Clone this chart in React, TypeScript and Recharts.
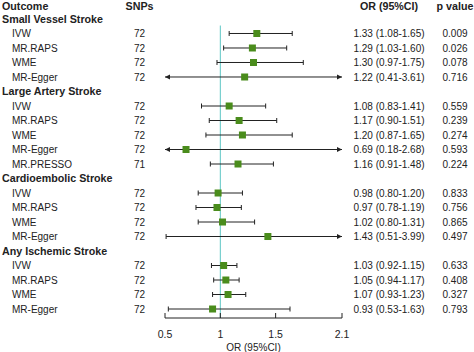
import React from 'react';
import { ScatterChart, Scatter, XAxis, YAxis, ReferenceLine } from 'recharts';

const groupNames = ['Small Vessel Stroke', 'Large Artery Stroke', 'Cardioembolic Stroke', 'Any Ischemic Stroke'];
const methodNames = [
  ['IVW', 'MR.RAPS', 'WME', 'MR-Egger'],
  ['IVW', 'MR.RAPS', 'WME', 'MR-Egger', 'MR.PRESSO'],
  ['IVW', 'MR.RAPS', 'WME', 'MR-Egger'],
  ['IVW', 'MR.RAPS', 'WME', 'MR-Egger'],
];
const snps = [
  [72, 72, 72, 72],
  [72, 72, 72, 72, 71],
  [72, 72, 72, 72],
  [72, 72, 72, 72],
];
const orVals = [
  [1.33, 1.29, 1.3, 1.22],
  [1.08, 1.17, 1.2, 0.69, 1.16],
  [0.98, 0.97, 1.02, 1.43],
  [1.03, 1.05, 1.07, 0.93],
];
const ciLow = [
  [1.08, 1.03, 0.97, 0.41],
  [0.83, 0.9, 0.87, 0.18, 0.91],
  [0.8, 0.78, 0.8, 0.51],
  [0.92, 0.94, 0.93, 0.53],
];
const ciHigh = [
  [1.65, 1.6, 1.75, 3.61],
  [1.41, 1.51, 1.65, 2.68, 1.48],
  [1.2, 1.19, 1.31, 3.99],
  [1.15, 1.17, 1.23, 1.63],
];
const pVals = [
  ['0.009', '0.026', '0.078', '0.716'],
  ['0.559', '0.239', '0.274', '0.593', '0.224'],
  ['0.833', '0.756', '0.865', '0.497'],
  ['0.633', '0.408', '0.327', '0.793'],
];
const xTicks = [0.5, 1, 1.5, 2.1];
const X_MIN = 0.5;
const X_MAX = 2.1;

type Row = {
  kind: 'header' | 'group' | 'method';
  r: number;
  name: string;
  snp?: number;
  or?: number;
  lo?: number;
  hi?: number;
  p?: string;
};

const rows: Row[] = [{ kind: 'header', r: -1, name: 'Outcome' }];
let rc = 0;
groupNames.forEach((g, gi) => {
  rows.push({ kind: 'group', r: rc, name: g });
  rc++;
  methodNames[gi].forEach((m, mi) => {
    rows.push({
      kind: 'method',
      r: rc,
      name: m,
      snp: snps[gi][mi],
      or: orVals[gi][mi],
      lo: ciLow[gi][mi],
      hi: ciHigh[gi][mi],
      p: pVals[gi][mi],
    });
    rc++;
  });
});
const methodRows = rows.filter((r) => r.kind === 'method');
const rowTicks = rows.map((r) => r.r);
const pointData = methodRows.map((r) => ({ x: r.or, y: r.r }));
const ciSeries = methodRows.map((r) => [
  { x: Math.max(r.lo as number, X_MIN), y: r.r, side: 'left', arrow: (r.lo as number) < X_MIN },
  { x: Math.min(r.hi as number, X_MAX), y: r.r, side: 'right', arrow: (r.hi as number) > X_MAX },
]);

const FONT = 'Liberation Sans, Arial, Helvetica, sans-serif';
const TXT = '#222';
const LINE = '#222';

const EndShape = (props: any) => {
  const { cx, cy, payload } = props;
  if (payload.arrow) {
    const d = payload.side === 'left' ? -1 : 1;
    return (
      <polygon
        points={`${cx},${cy} ${cx - d * 5},${cy - 2.5} ${cx - d * 5},${cy + 2.5}`}
        fill={LINE}
      />
    );
  }
  return <line x1={cx} x2={cx} y1={cy - 2.5} y2={cy + 2.5} stroke={LINE} strokeWidth={1} />;
};

const SquareShape = (props: any) => {
  const { cx, cy } = props;
  return <rect x={cx - 3.5} y={cy - 3.5} width={7} height={7} fill="#4a8c1c" />;
};

const LeftTick = (props: any) => {
  const { y, payload } = props;
  const row = rows.find((r) => r.r === payload.value);
  if (!row) return <g />;
  const by = y + 3.7;
  if (row.kind === 'header') {
    const hy = y + 5;
    return (
      <g fontFamily={FONT} fontWeight="bold" fontSize={10.7} fill={TXT}>
        <text x={2} y={hy}>Outcome</text>
        <text x={139.5} y={hy} textAnchor="middle">SNPs</text>
        <text x={389} y={hy} textAnchor="middle">OR (95%CI)</text>
        <text x={455} y={hy} textAnchor="middle">p value</text>
      </g>
    );
  }
  if (row.kind === 'group') {
    return (
      <text x={2} y={by} fontFamily={FONT} fontWeight="bold" fontSize={10.7} fill={TXT}>
        {row.name}
      </text>
    );
  }
  const ciText = `${(row.or as number).toFixed(2)} (${(row.lo as number).toFixed(2)}-${(row.hi as number).toFixed(2)})`;
  return (
    <g fontFamily={FONT} fontSize={10} fill={TXT}>
      <text x={12} y={by}>{row.name}</text>
      <text x={139.5} y={by} textAnchor="middle">{row.snp}</text>
      <text x={389} y={by} textAnchor="middle">{ciText}</text>
      <text x={455} y={by} textAnchor="middle">{row.p}</text>
    </g>
  );
};

const BottomTick = (props: any) => {
  const { x, y, payload } = props;
  return (
    <g>
      <line x1={x} x2={x} y1={y - 5} y2={y} stroke={LINE} strokeWidth={1} />
      <text x={x} y={y + 19.5} textAnchor="middle" fontFamily={FONT} fontSize={10.5} fill={TXT}>
        {String(payload.value)}
      </text>
    </g>
  );
};

export default function App() {
  return (
    <div style={{ position: 'absolute', left: 0, top: 0, background: '#fff' }}>
      <ScatterChart width={474} height={352} margin={{ top: 0, right: 0, bottom: 0, left: 0 }}>
        <XAxis
          type="number"
          dataKey="x"
          domain={[X_MIN, X_MAX]}
          ticks={xTicks}
          allowDataOverflow
          height={34}
          tickSize={0}
          tickMargin={0}
          tickLine={false}
          axisLine={{ stroke: LINE, strokeWidth: 1 }}
          tick={(p: any) => <BottomTick {...p} />}
          interval={0}
          label={{ value: 'OR (95%CI)', position: 'insideBottom', offset: 1.5, fontFamily: FONT, fontSize: 10, fill: TXT }}
        />
        <YAxis
          type="number"
          dataKey="y"
          domain={[-1.31, 20.62]}
          ticks={rowTicks}
          reversed
          allowDataOverflow
          width={165}
          interval={0}
          tickSize={0}
          tickMargin={0}
          axisLine={false}
          tickLine={false}
          tick={(p: any) => <LeftTick {...p} />}
        />
        <YAxis
          yAxisId="right"
          orientation="right"
          type="number"
          domain={[-1.31, 20.62]}
          width={132}
          axisLine={false}
          tickLine={false}
          tick={false}
          allowDataOverflow
        />
        <ReferenceLine
          segment={[
            { x: 1, y: 0.45 },
            { x: 1, y: 20.62 },
          ]}
          stroke="#5cc6c4"
          strokeWidth={1}
        />
        {ciSeries.map((d, i) => (
          <Scatter
            key={`ci-${i}`}
            data={d}
            line={{ stroke: LINE, strokeWidth: 1 }}
            shape={<EndShape />}
            isAnimationActive={false}
          />
        ))}
        <Scatter data={pointData} shape={<SquareShape />} isAnimationActive={false} />
      </ScatterChart>
    </div>
  );
}
